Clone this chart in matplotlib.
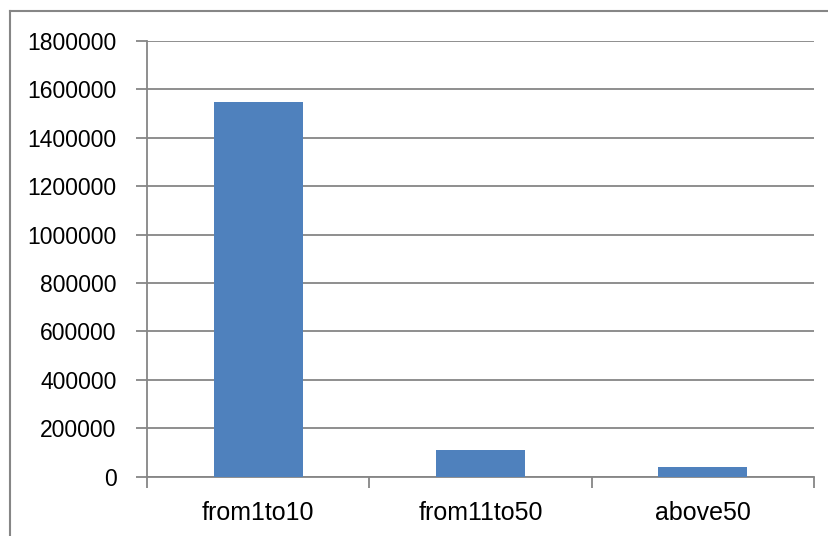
import numpy as np
import matplotlib.pyplot as plt
from matplotlib.lines import Line2D

categories = ['from1to10', 'from11to50', 'above50']
counts = [1548000, 111000, 40000]
y_ticks = [0, 200000, 400000, 600000, 800000, 1000000, 1200000, 1400000, 1600000, 1800000]

plt.rcParams['font.family'] = ['Liberation Sans', 'DejaVu Sans']
grey = '#868686'

fig = plt.figure(figsize=(8.29, 5.36), dpi=100, facecolor='white')
ax = fig.add_axes([147/829, 1 - 476.5/536, (814 - 147)/829, (476.5 - 41)/536])

x = np.arange(len(categories))
ax.bar(x, counts, width=0.4, color='#4F81BD', zorder=3)

ax.set_xlim(-0.5, len(categories) - 0.5)
ax.set_ylim(0, 1800000)
ax.set_yticks(y_ticks)
ax.set_yticklabels([str(v) for v in y_ticks])
ax.yaxis.grid(True, color=grey, lw=1.3, zorder=0)
ax.set_axisbelow(True)

# category labels at bar centres, tick marks on the boundaries
ax.set_xticks(x)
ax.set_xticklabels(categories)
ax.set_xticks(np.arange(len(categories) + 1) - 0.5, minor=True)
ax.tick_params(axis='x', which='major', length=0, pad=18, labelsize=18)
ax.tick_params(axis='x', which='minor', length=8, width=1.3, color=grey)
ax.tick_params(axis='y', length=8, width=1.3, color=grey, pad=14, labelsize=16.5)

for side in ['top', 'right']:
    ax.spines[side].set_visible(False)
for side in ['left', 'bottom']:
    ax.spines[side].set_color(grey)
    ax.spines[side].set_linewidth(1.3)

# outer chart frame (only left and top edges fit in the canvas)
fig.add_artist(Line2D([10/829, 10/829], [0, 1 - 11/536], color=grey, lw=1.5))
fig.add_artist(Line2D([10/829, 1], [1 - 11/536, 1 - 11/536], color=grey, lw=1.5))

fig.savefig('out.png', dpi=100, facecolor='white')
